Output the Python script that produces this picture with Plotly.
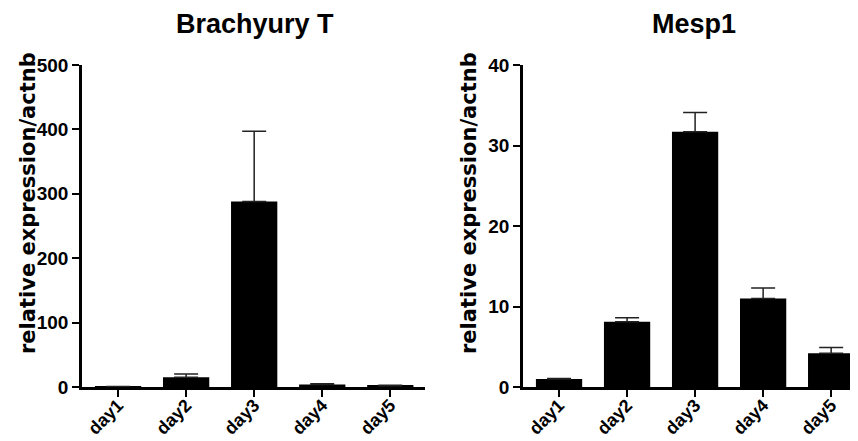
import plotly.graph_objects as go

days = ["day1", "day2", "day3", "day4", "day5"]
brachyury_mean = [0.5, 15, 288, 4, 2]
brachyury_err = [0.3, 5, 109, 1.2, 0.6]
mesp1_mean = [1.0, 8.1, 31.7, 11.0, 4.2]
mesp1_err = [0.05, 0.5, 2.4, 1.3, 0.7]
titles = ["Brachyury T", "Mesp1"]
y_title = "relative expression/actnb"
y_ticks_left = [0, 100, 200, 300, 400, 500]
y_ticks_right = [0, 10, 20, 30, 40]

FONT = "Liberation Sans, Arial, sans-serif"
WIDE = "DejaVu Sans, Liberation Sans, sans-serif"

# page body has an 8px default margin; size the figure to fill the rest
OFF = 8
W, H = 858 - OFF, 441 - OFF


def px(X):
    return (X - OFF) / W


def py(Y):
    return 1 - (Y - OFF) / H


fig = go.Figure()
zeros = [0] * len(days)
fig.add_trace(go.Bar(
    x=days, y=brachyury_mean, width=0.68, marker=dict(color="black", line=dict(width=0)),
    error_y=dict(type="data", symmetric=False, array=brachyury_err, arrayminus=zeros,
                 color="#222222", thickness=1.5, width=12),
    xaxis="x", yaxis="y", showlegend=False))
fig.add_trace(go.Bar(
    x=days, y=mesp1_mean, width=0.68, marker=dict(color="black", line=dict(width=0)),
    error_y=dict(type="data", symmetric=False, array=mesp1_err, arrayminus=zeros,
                 color="#222222", thickness=1.5, width=12),
    xaxis="x2", yaxis="y2", showlegend=False))

ydom = [py(387), py(65)]
xcommon = dict(type="category", showline=True, linecolor="black", linewidth=2.5,
               ticks="outside", ticklen=7, tickwidth=2, tickcolor="black",
               tickangle=-45, showgrid=False, zeroline=False, automargin=False,
               ticklabelstandoff=-9,
               tickfont=dict(family=FONT, size=18, color="black", weight="bold"))
ycommon = dict(showline=True, linecolor="black", linewidth=2.5,
               ticks="outside", ticklen=7, tickwidth=2, tickcolor="black",
               showgrid=False, zeroline=False, automargin=False,
               tickfont=dict(family=FONT, size=19, color="black", weight="bold"))

title_font = dict(family=FONT, size=27, color="black", weight="bold")
ytitle_font = dict(family=WIDE, size=21, color="black", weight="bold")

fig.update_layout(
    width=W, height=H, margin=dict(l=0, r=0, t=0, b=0),
    plot_bgcolor="white", paper_bgcolor="white",
    xaxis=dict(xcommon, domain=[px(82), px(425)], range=[-0.53, 4.51], anchor="y"),
    yaxis=dict(ycommon, domain=ydom, range=[0, 500], tickvals=y_ticks_left, anchor="x"),
    xaxis2=dict(xcommon, domain=[px(523), px(857)], range=[-0.53, 4.38], anchor="y2"),
    yaxis2=dict(ycommon, domain=ydom, range=[0, 40], tickvals=y_ticks_right, anchor="x2"),
    annotations=[
        dict(text=titles[0], x=px(255), y=py(24), xref="paper", yref="paper",
             xanchor="center", yanchor="middle", showarrow=False, font=title_font),
        dict(text=titles[1], x=px(694), y=py(24), xref="paper", yref="paper",
             xanchor="center", yanchor="middle", showarrow=False, font=title_font),
        dict(text=y_title, x=px(28), y=py(203), xref="paper", yref="paper",
             xanchor="center", yanchor="middle", textangle=-90, showarrow=False, font=ytitle_font),
        dict(text=y_title, x=px(469), y=py(203), xref="paper", yref="paper",
             xanchor="center", yanchor="middle", textangle=-90, showarrow=False, font=ytitle_font),
    ],
)

fig.write_html("out.html")
